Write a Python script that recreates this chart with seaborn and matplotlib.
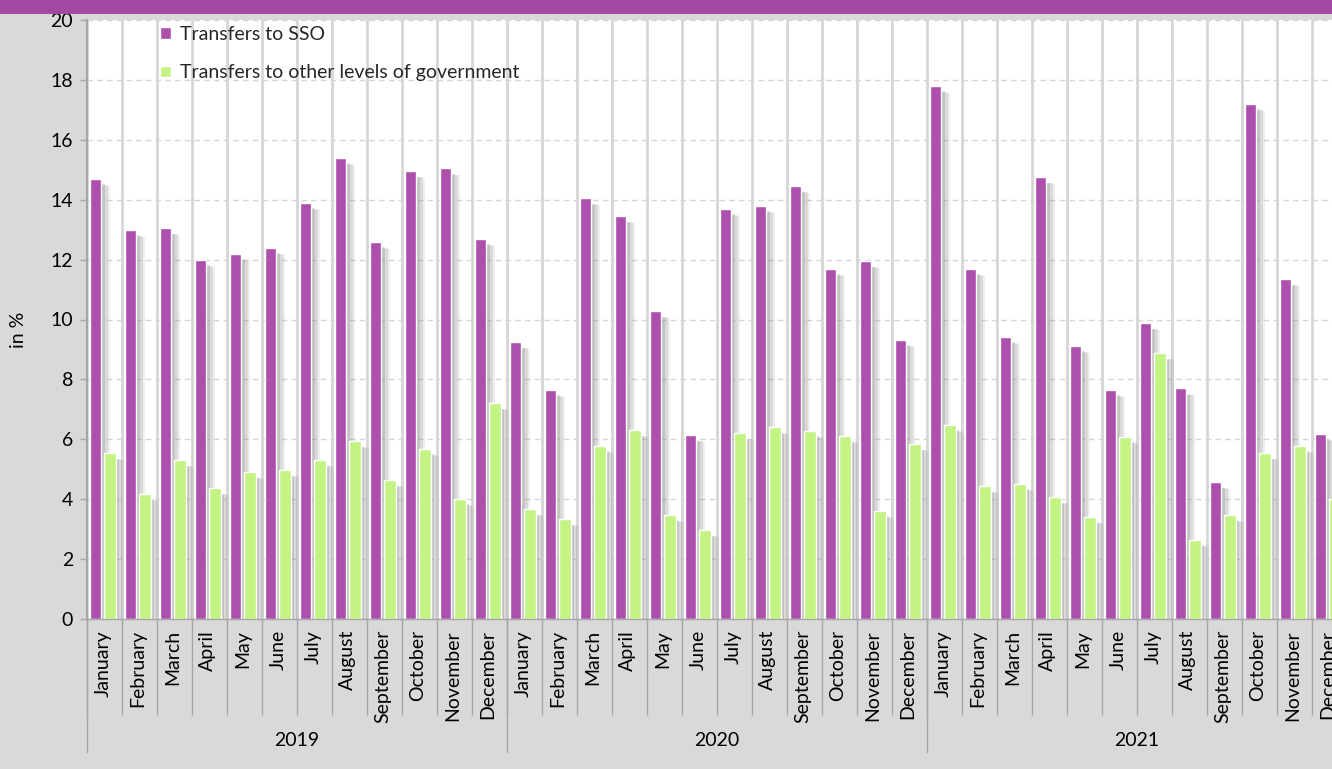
import numpy as np
import pandas as pd
import matplotlib.pyplot as plt
import seaborn as sns
from matplotlib import patheffects as pe
from matplotlib.patches import Rectangle

# ---------- data ----------
years = ["2019", "2020", "2021"]
months = ["January", "February", "March", "April", "May", "June",
          "July", "August", "September", "October", "November", "December"]
series_names = ["Transfers to SSO", "Transfers to other levels of government"]

sso = [14.7, 13.0, 13.05, 12.0, 12.2, 12.4, 13.9, 15.4, 12.6, 14.95, 15.05, 12.7,
       9.25, 7.65, 14.05, 13.45, 10.28, 6.14, 13.7, 13.8, 14.45, 11.7, 11.95, 9.32,
       17.8, 11.7, 9.42, 14.75, 9.12, 7.65, 9.88, 7.7, 4.57, 17.2, 11.35, 6.18]
other = [5.54, 4.18, 5.31, 4.37, 4.91, 4.97, 5.31, 5.94, 4.64, 5.68, 4.01, 7.21,
         3.67, 3.34, 5.78, 6.31, 3.47, 2.97, 6.21, 6.41, 6.28, 6.11, 3.61, 5.84,
         6.48, 4.44, 4.51, 4.07, 3.41, 6.08, 8.88, 2.64, 3.47, 5.54, 5.78, 4.0]

PURPLE = "#AD4FAD"
GREEN = "#C3F383"
BAND = "#A349A4"
BG = "#D9D9D9"
GRID = "#D6D6D6"
AXIS = "#A6A6A6"

periods = [f"{y} {m}" for y in years for m in months]
df = pd.DataFrame({"period": periods, series_names[0]: sso, series_names[1]: other})
long = df.melt(id_vars="period", var_name="series", value_name="pct")

# ---------- style ----------
sns.set_theme(style="white")
plt.rcParams["font.family"] = ["Lato", "DejaVu Sans"]
FS = 14

W, H = 1332, 769
fig = plt.figure(figsize=(W / 100, H / 100), dpi=100, facecolor=BG)
ax = fig.add_axes([87 / W, (H - 619) / H, (1347 - 87) / W, (619 - 20) / H])
ax.set_facecolor("white")
fig.patches.append(Rectangle((0, 1 - 14 / H), 1, 14 / H, transform=fig.transFigure,
                             facecolor=BAND, edgecolor="none"))

sns.barplot(data=long, x="period", y="pct", hue="series", order=periods,
            hue_order=series_names, palette=[PURPLE, GREEN], saturation=1,
            width=0.83, gap=0.18, edgecolor="white", linewidth=1, ax=ax)

# soft drop shadow to the right of each bar (darker close to the bar)
for p in ax.patches:
    p.set_path_effects([
        pe.SimplePatchShadow(offset=(6, -5), shadow_rgbFace="#808080", alpha=0.12),
        pe.SimplePatchShadow(offset=(4.5, -4.5), shadow_rgbFace="#808080", alpha=0.18),
        pe.SimplePatchShadow(offset=(2.5, -4), shadow_rgbFace="#808080", alpha=0.25),
        pe.Normal(),
    ])

# ---------- axes ----------
ax.set_xlim(-0.45, 35.55)
ax.set_ylim(0, 20)
ax.set_yticks(range(0, 21, 2))
ax.set_xlabel("")
ax.set_ylabel("")

bounds = np.arange(37) - 0.45
ax.set_xticks(bounds)
ax.set_xticklabels([])
ax.set_xticks(np.arange(36), minor=True)
ax.set_xticklabels(months * 3, minor=True, rotation=90)

ax.set_axisbelow(True)
ax.yaxis.grid(True, linestyle=(0, (4, 3)), color=GRID, linewidth=1)
ax.xaxis.grid(True, which="major", color=GRID, linewidth=2)

ax.tick_params(axis="x", which="major", bottom=True, length=69, width=1,
               color=AXIS, direction="out")
ax.tick_params(axis="x", which="minor", bottom=True, length=0, pad=8,
               labelsize=FS, labelcolor="black")
ax.tick_params(axis="y", left=True, length=5, width=1, color=AXIS,
               labelsize=FS, pad=5, labelcolor="black")

for side in ["top", "right"]:
    ax.spines[side].set_visible(False)
ax.spines["left"].set_color(AXIS)
ax.spines["left"].set_linewidth(1.5)
ax.spines["bottom"].set_color(AXIS)
ax.spines["bottom"].set_linewidth(1)

# year group separators and labels
xt = ax.get_xaxis_transform()
for b in [-0.45, 11.55, 23.55, 35.55]:
    ax.plot([b, b], [0, -133 / 599], transform=xt, color=AXIS, lw=1, clip_on=False)
for i, y in enumerate(years):
    ax.text(i * 12 + 5.55, -121 / 599, y, transform=xt, ha="center", va="center",
            fontsize=FS, color="black")

fig.text(18 / W, 1 - 330 / H, "in %", rotation=90, ha="center", va="center",
         fontsize=FS, color="black")

handles, _ = ax.get_legend_handles_labels()
leg = ax.legend(handles, series_names, loc="upper left", bbox_to_anchor=(0.058, 0.99),
                frameon=False, handlelength=0.55, handleheight=0.55, handletextpad=0.45,
                labelspacing=1.1, borderpad=0, borderaxespad=0, fontsize=FS)
for h in leg.get_patches():
    h.set_path_effects([])

fig.savefig("out.png", dpi=100, facecolor=BG)
